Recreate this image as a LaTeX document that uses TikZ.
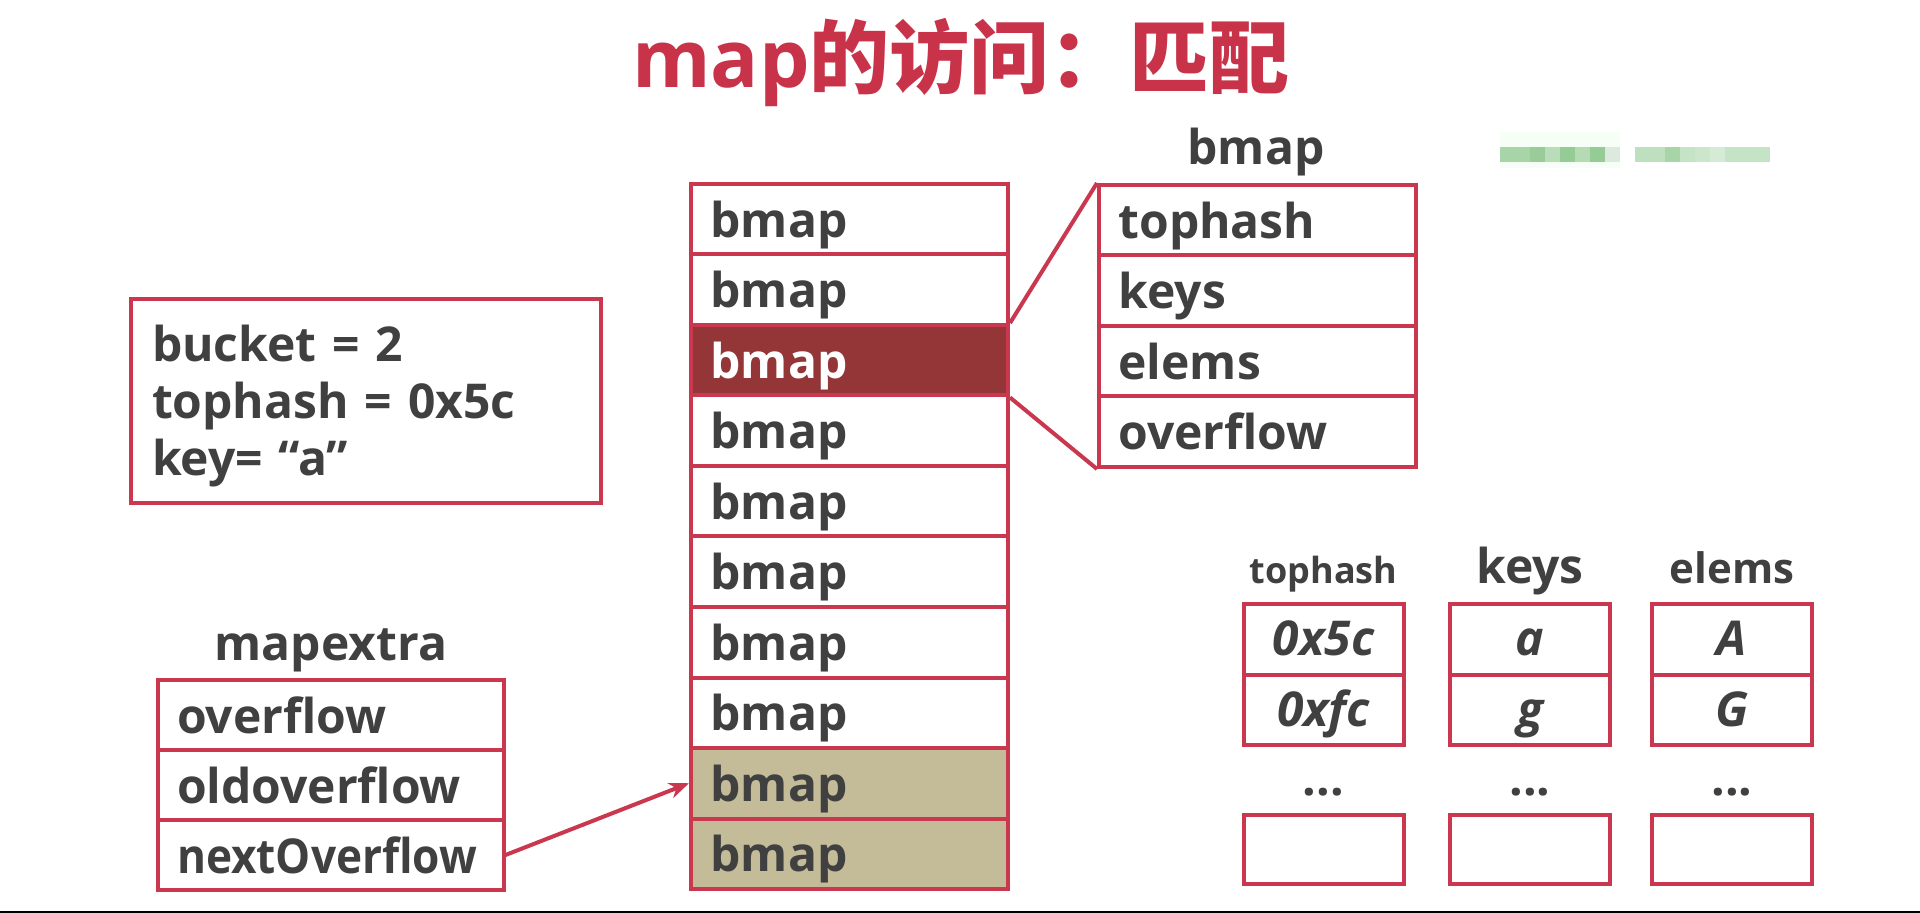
\documentclass[tikz,border=0pt]{standalone}
\usepackage{fontspec}
\usepackage{graphicx}
\setmainfont{Open Sans}
\newfontfamily\cjk{Noto Sans CJK SC}
\usetikzlibrary{arrows.meta}
\definecolor{bord}{HTML}{C9384F}
\definecolor{txt}{HTML}{404040}
\definecolor{hot}{HTML}{943538}
\definecolor{khaki}{HTML}{C4BB99}
\definecolor{ttl}{HTML}{C8334A}
\definecolor{baseline}{HTML}{6D7479}
\begin{document}
\begin{tikzpicture}[x=0.5pt,y=-0.5pt,
  big/.style={font=\bfseries\fontsize{24}{28.5}\selectfont},
  cell/.style={big,draw=bord,line width=2pt,fill=white,text=txt,
    minimum height=35.25pt,text width=139pt,inner xsep=9.75pt,inner ysep=0pt,
    align=left,text height=20.3pt,text depth=2.3pt},
  hotcell/.style={cell,fill=hot,text=white},
  oldcell/.style={cell,fill=khaki},
  xcell/.style={cell,text width=153.5pt,minimum height=35pt},
  vcell/.style={big,draw=bord,line width=2pt,fill=white,text=txt,
    minimum height=35.25pt,minimum width=80pt,inner sep=0pt,align=center,
    text height=19.3pt,text depth=3.3pt,font=\bfseries\itshape\fontsize{24}{28.5}\selectfont},
  head/.style={text=txt,anchor=base,inner sep=0pt},
  link/.style={draw=bord,line width=2pt}]
\useasboundingbox (0,0) rectangle (1920,913);
% title
\node[anchor=base,text=ttl,inner sep=0pt] (title) at (961,88)
  {\fontsize{40}{40}\selectfont\bfseries map{\cjk\bfseries 的访问：匹配}};
% blurred watermark (mosaic)
\fill[green!4] (1500,132) rectangle (1620,147);
\fill[green!4] (1500,162) rectangle (1620,168);
\foreach \c [count=\i from 0] in {A8D5A8,A8D5A8,9ACC9A,B8DDB8,95CC95,B5DBB5,95CC95,DCE9DC}{
  \definecolor{mc}{HTML}{\c}
  \fill[mc] ({1500+15*\i},147) rectangle ({1515+15*\i},162);
}
\foreach \c [count=\i from 0] in {BFE0BF,BFE0BF,A8D5A8,C5E3C5,CCE6CC,D5EBD5,C5E3C5,C5E3C5,C5E3C5}{
  \definecolor{mc}{HTML}{\c}
  \fill[mc] ({1635+15*\i},147) rectangle ({1650+15*\i},162);
}
% bucket column
\node[cell]    (b0) at (849.5,219.25) {bmap};
\node[cell]    (b1) at (849.5,289.75) {bmap};
\node[cell]    (b3) at (849.5,430.75) {bmap};
\node[cell]    (b4) at (849.5,501.25) {bmap};
\node[cell]    (b5) at (849.5,571.75) {bmap};
\node[cell]    (b6) at (849.5,642.25) {bmap};
\node[cell]    (b7) at (849.5,712.75) {bmap};
\node[oldcell] (b8) at (849.5,783.25) {bmap};
\node[oldcell] (b9) at (849.5,853.75) {bmap};
\node[hotcell] (b2) at (849.5,360.25) {bmap};
% bmap struct
\node[head,big] (bmaplbl) at (1256,165) {bmap};
\node[cell] (r0) at (1257.5,220.25) {tophash};
\node[cell] (r1) at (1257.5,290.75) {keys};
\node[cell] (r2) at (1257.5,361.25) {elems};
\node[cell] (r3) at (1257.5,431.75) {overflow};
\draw[link] (b2.north east) -- (r0.north west);
\draw[link] (b2.south east) -- (r3.south west);
% info box
\node[draw=bord,line width=2pt,minimum width=235pt,minimum height=102pt,inner sep=0pt] (info) at (366,401) {};
\node[big,text=txt,text width=214pt,inner sep=0pt,align=left,anchor=center] (infotext)
  at ([yshift=-2.5pt]info.center) {bucket = 2\\tophash = 0x5c\\key=\ “a”};
% mapextra
\node[head,big] (mxlbl) at (331,660) {mapextra};
\node[xcell] (m0) at (330.5,715) {overflow};
\node[xcell] (m1) at (330.5,785) {oldoverflow};
\node[xcell] (m2) at (330.5,855) {\scalebox{0.92}[1]{nextOverflow}};
\draw[draw=bord,line width=2pt,-{Stealth[length=10pt,width=8pt]}] (m2.east) -- (b8.west);
% tophash / keys / elems arrays
\node[head,font=\bfseries\fontsize{18}{18}\selectfont] (h0) at (1323.5,584) {tophash};
\node[head,font=\bfseries\fontsize{24}{24}\selectfont] (h1) at (1530,584) {keys};
\node[head,font=\bfseries\fontsize{21}{21}\selectfont] (h2) at (1732,584) {elems};
\node[vcell] (t0) at (1323.5,639.5) {0x5c};
\node[vcell] (t1) at (1323.5,710) {0xfc};
\node[vcell] (k0) at (1530,639.5) {a};
\node[vcell] (k1) at (1530,710) {g};
\node[vcell] (e0) at (1732,639.5) {A};
\node[vcell] (e1) at (1732,710) {G};
\node[text=txt,font=\bfseries\fontsize{24}{24}\selectfont] (d0) at (1323.5,792) {...};
\node[text=txt,font=\bfseries\fontsize{24}{24}\selectfont] (d1) at (1530,792) {...};
\node[text=txt,font=\bfseries\fontsize{24}{24}\selectfont] (d2) at (1732,792) {...};
\node[vcell,minimum height=34.5pt] (t2) at (1323.5,849.5) {};
\node[vcell,minimum height=34.5pt] (k2) at (1530,849.5) {};
\node[vcell,minimum height=34.5pt] (e2) at (1732,849.5) {};
% bottom rule
\fill[baseline] (0,910.5) rectangle (1920,913);
\end{tikzpicture}
\end{document}
